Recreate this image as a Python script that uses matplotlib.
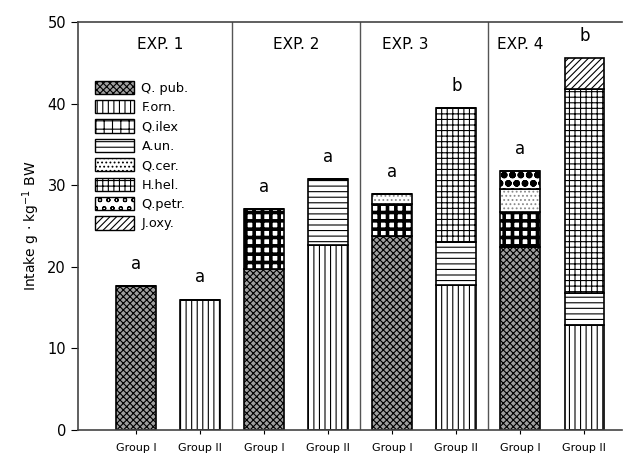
import numpy as np
import matplotlib.pyplot as plt
from matplotlib.patches import Patch

# plant species eaten (stack order bottom -> top)
species = ['Q. pub.', 'F.orn.', 'Q.ilex', 'A.un.', 'Q.cer.', 'H.hel.', 'Q.petr.', 'J.oxy.']
hatches = ['xxxxx', '|||', '++', '---', '....', '+++', 'oo', '/////']
hatch_lw = [0.8, 0.8, 2.6, 0.8, 0.8, 0.8, 2.4, 0.8]
faces = ['#a0a0a0', 'white', 'white', 'white', 'white', 'white', 'white', 'white']
hcols = ['black', 'black', 'black', 'black', '#8a8a8a', 'black', 'black', 'black']

groups = ['Group I', 'Group II'] * 4
exps = ['EXP. 1', 'EXP. 2', 'EXP. 3', 'EXP. 4']

# intake per species, one value per bar (g/kg BW)
q_pub  = [17.7, 0.0, 19.7, 0.0, 23.8, 0.0, 22.4, 0.0]
f_orn  = [0.0, 16.0, 0.0, 22.7, 0.0, 17.8, 0.0, 12.9]
q_ilex = [0.0, 0.0, 7.4, 0.0, 3.9, 0.0, 4.3, 0.0]
a_un   = [0.0, 0.0, 0.0, 8.1, 0.0, 5.3, 0.0, 3.9]
q_cer  = [0.0, 0.0, 0.0, 0.0, 1.2, 0.0, 2.8, 0.0]
h_hel  = [0.0, 0.0, 0.0, 0.0, 0.0, 16.4, 0.0, 25.0]
q_petr = [0.0, 0.0, 0.0, 0.0, 0.0, 0.0, 2.2, 0.0]
j_oxy  = [0.0, 0.0, 0.0, 0.0, 0.0, 0.0, 0.0, 3.8]
letters = ['a', 'a', 'a', 'a', 'a', 'b', 'a', 'b']

data = [q_pub, f_orn, q_ilex, a_un, q_cer, h_hel, q_petr, j_oxy]

fig = plt.figure(figsize=(6.33, 4.59), dpi=100)
ax = fig.add_axes([0.123, 0.063, 0.86, 0.889])

x = np.arange(len(groups))
w = 0.62
bottom = np.zeros(len(groups))
for vals, h, lw, fc, hc in zip(data, hatches, hatch_lw, faces, hcols):
    vals = np.array(vals)
    plt.rcParams['hatch.linewidth'] = lw
    ax.bar(x, vals, w, bottom=bottom, color=fc, hatch=h, edgecolor=hc, linewidth=0)
    ax.bar(x, vals, w, bottom=bottom, fill=False, edgecolor='black', linewidth=1.2)
    bottom += vals

for xi, tot, lab in zip(x, bottom, letters):
    ax.text(xi, tot + 1.6, lab, ha='center', va='bottom', fontsize=12)

# experiment separators and titles
for s in [1.5, 3.5, 5.5]:
    ax.axvline(s, color='#555555', lw=1)
for xt, t in zip([0.38, 2.5, 4.2, 6.0], exps):
    ax.text(xt, 47.3, t, ha='center', va='center', fontsize=11)

ax.set_xlim(-0.906, 7.59)
ax.set_ylim(0, 50)
ax.set_yticks([0, 10, 20, 30, 40, 50])
ax.set_xticks(x)
ax.set_xticklabels(groups, fontsize=8)
ax.tick_params(axis='y', labelsize=10.5, direction='out', length=5)
ax.tick_params(axis='x', direction='out', length=3, pad=6)
ax.set_ylabel('Intake g $\\cdot$ kg$^{-1}$ BW', fontsize=10)
ax.spines['right'].set_visible(False)
for sp in ['left', 'bottom', 'top']:
    ax.spines[sp].set_linewidth(1.2)
    ax.spines[sp].set_color('#444444')

handles = []
for lab, h, lw, fc in zip(species, hatches, hatch_lw, faces):
    plt.rcParams['hatch.linewidth'] = lw
    handles.append(Patch(facecolor=fc, hatch=h, edgecolor='black', label=lab))
ax.legend(handles=handles, loc='upper left', bbox_to_anchor=(0.01, 0.885),
          frameon=False, fontsize=9.3, handlelength=3.0, handleheight=1.2,
          labelspacing=0.42, handletextpad=0.6)

fig.savefig('out.png', dpi=100)
